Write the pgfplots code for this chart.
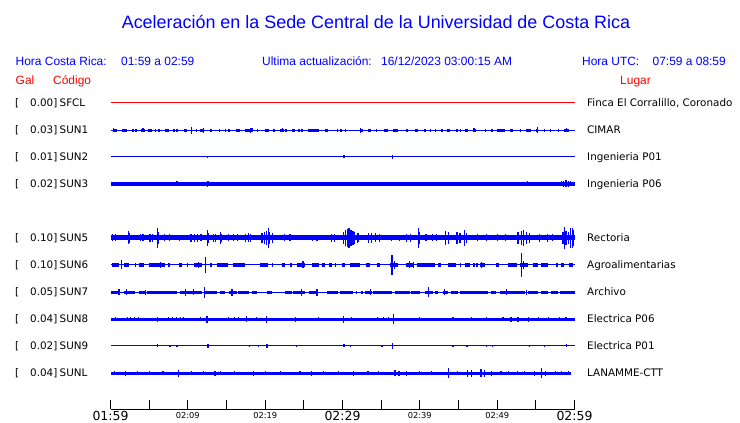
\documentclass[border=0pt]{standalone}
\usepackage{pgfplots}
\pgfplotsset{compat=1.18}
\usepackage{fontspec}
\setmainfont{DejaVu Sans}
\newfontfamily\lib{Liberation Sans}
\definecolor{pblue}{RGB}{0,0,255}
\definecolor{pred}{RGB}{255,0,0}
\newcommand\TL[1]{\raisebox{1.3bp}[\height][\depth]{\fontsize{12.5}{14}\selectfont #1}}
\pgfplotsset{
  spikes/.style={draw=none, error bars/.cd, y dir=both, y explicit, error mark=none,
    error bar style={draw=pblue, solid, line width=1.2bp}},
  blocks/.style={draw=none, error bars/.cd, x dir=both, x explicit, error mark=none,
    error bar style={draw=pblue, solid, line width=#1}},
}
\begin{document}
\begin{tikzpicture}
\useasboundingbox (0,0) rectangle (740bp,423bp);
\begin{axis}[
  at={(110.5bp,14bp)}, anchor=south west, scale only axis,
  width=464bp, height=323bp,
  xmin=0, xmax=60, ymin=-409, ymax=-86,
  axis x line*=bottom, axis y line=none, ytick=\empty,
  xtick={0,10,...,60}, minor xtick={5,15,...,55},
  xticklabels={\TL{01:59},02:09,02:19,\TL{02:29},02:39,02:49,\TL{02:59}},
  xticklabel style={anchor=north, inner sep=0pt, yshift=-3.3bp, font=\fontsize{8.3}{10}\selectfont},
  tick align=inside, major tick length=9bp, minor tick length=9bp,
  tick style={black, line width=1bp}, axis line style={black, line width=1bp},
  clip=false,
]
% SFCL
\addplot[pred, line width=1bp] coordinates {(0,-103) (60,-103)};
% SUN1
\addplot[pblue, line width=1bp] coordinates {(0,-130.3) (60,-130.3)};
\addplot[blocks=3bp] table[x=x, y expr=-130.3, x error=w] {
x w
0.6 0.3
1.83 0.33
2.9 0.1
3.3 0.1
4.22 0.22
5.12 0.27
5.8 0.1
6.3 0.1
7.25 0.25
8.22 0.08
8.57 0.08
9.67 0.22
11.1 0.1
11.83 0.22
12.97 0.08
14.05 0.08
14.85 0.08
15.32 0.08
16.5 0.3
17.85 0.45
18.97 0.08
20.05 0.08
20.37 0.08
21.15 0.08
22.15 0.25
22.65 0.08
23.62 0.18
24.35 0.08
24.77 0.08
26.25 0.65
27.9 0.2
29.32 0.08
29.75 0.08
30.37 0.08
32.47 0.22
33.5 0.2
34.35 0.08
35.65 0.25
36.87 0.33
38.35 0.08
39.57 0.22
40.62 0.08
41.35 0.08
42.02 0.08
42.85 0.08
43.67 0.22
44.77 0.08
45.22 0.08
46.02 0.22
47.15 0.15
48.45 0.08
49.32 0.08
50.5 0.5
51.82 0.22
52.97 0.08
54.07 0.33
55.17 0.12
56.12 0.08
56.87 0.08
57.92 0.08
59.02 0.33
};
\addplot[spikes] table[x=x, y expr=-130.3, y error=e] {
x e
0.4 1.8
4.2 1.8
10.5 3.7
12.0 2.5
18.1 2.5
18.3 2
22.2 2
32.3 2.5
47.0 2
55.2 3
59.0 1.8
};
% SUN2
\addplot[pblue, line width=1bp] coordinates {(0,-157) (60,-157)};
\addplot[spikes] table[x=x, y expr=-157, y error=e] {
x e
12.5 1
30.1 1.5
30.2 1.5
36.5 2
};
% SUN3
\addplot[pblue, line width=3.2bp] coordinates {(0,-184) (60,-184)};
\addplot[spikes] table[x=x, y expr=-184, y error=e] {
x e
2.6 2
8.6 2.5
12.5 3
12.6 2.5
18.5 2
30.1 2
41.0 2
53.9 2.5
58.3 2.5
58.6 3
58.9 3.5
59.2 3
59.5 2.5
};
% SUN5
\addplot[pblue, line width=5bp] coordinates {(0,-238) (60,-238)};
\addplot[spikes] table[x=x, y expr=-238, y error=e] {
x e
0.3 3.5
0.6 3.5
2.37 6.5
2.5 5
3.9 3.5
4.2 3.5
5.1 4
5.4 4
6.1 10
6.25 6
7.0 3.5
7.6 3.5
8.9 3
10.4 4
10.9 4
11.3 4
11.7 3.5
12.55 8
12.7 5
13.3 4
13.6 4
14.2 6
14.4 4
15.3 3.5
15.9 3.5
16.4 3.5
17.5 4
17.8 4.5
18.1 4
19.6 5
19.9 6
20.2 7
20.4 10
20.6 6
20.9 5
22.5 3.5
23.2 3.5
26.1 3
26.7 3
28.6 4
29.0 4
30.1 6
30.35 8
30.6 9
30.85 10
31.1 8
31.35 7
31.6 6
31.9 5
32.1 4.5
33.4 5
33.8 5
34.3 4.5
34.8 4
36.3 3
37.4 3
38.3 4
38.8 4
39.8 10
39.95 6
40.8 3.5
41.6 3.5
42.2 3.5
43.3 7
43.7 6
44.8 6
45.2 5
45.8 8
46.0 5
47.5 3.5
48.6 3.5
50.0 3.5
51.1 3.5
52.7 6
53.1 7
53.4 8
53.8 6
54.2 5
55.5 4
56.5 4
57.2 3.5
58.5 6
58.7 11
58.9 7
59.2 6
59.45 10
59.7 10
59.85 8
};
% SUN6
\addplot[pblue, line width=1bp] coordinates {(0,-265) (60,-265)};
\addplot[blocks=3.5bp] table[x=x, y expr=-265, x error=w] {
x w
0.6 0.47
2.05 0.32
3.22 0.08
3.98 0.32
6.02 1.07
7.57 0.08
9.02 0.22
9.95 0.06
11.27 0.53
12.97 0.08
14.5 0.75
16.65 0.75
19.87 0.53
20.92 0.08
22.37 0.22
23.32 0.12
24.63 0.53
26.45 0.45
27.52 0.22
28.4 0.2
29.07 0.08
30.1 0.2
31.6 0.65
33.32 0.22
34.62 0.22
36.66 0.53
38.7 0.43
40.75 1.18
42.58 0.22
44.2 0.53
45.23 0.08
46.12 0.32
46.95 0.06
47.37 0.08
48.06 0.32
50.1 0.2
51.95 0.55
53.44 0.53
54.93 0.32
56.13 0.43
57.7 0.08
58.5 0.2
59.57 0.22
};
\addplot[spikes] table[x=x, y expr=-265, y error=e] {
x e
1.4 4.5
6.5 3
11.4 3
12.3 8
24.9 3.5
36.4 10
36.7 4
38.7 3.5
39.2 3
48.0 3
53.1 12
53.4 4
};
% SUN7
\addplot[pblue, line width=1bp] coordinates {(0,-292.3) (60,-292.3)};
\addplot[blocks=3.2bp] table[x=x, y expr=-292.3, x error=w] {
x w
0.54 0.54
2.47 0.75
4.09 0.43
6.67 1.94
10.43 1.4
13.01 0.75
14.52 0.32
15.8 0.53
17.2 0.65
18.6 0.32
20.53 0.32
23.01 0.43
24.41 0.75
26.28 0.6
28.71 0.75
30.54 0.86
31.8 0.06
32.5 0.06
33.33 0.43
35.16 1.18
37.74 0.97
39.46 0.54
41.18 0.54
42.15 0.22
43.33 0.32
44.52 0.43
46.99 1.83
49.57 0.32
51.93 1.61
54.62 0.65
56.13 0.43
57.42 0.43
59.03 0.97
};
\addplot[spikes] table[x=x, y expr=-292.3, y error=e] {
x e
1.1 3
2.1 3
4.5 2.5
9.7 3.5
10.75 3
12.2 5.5
15.7 3.5
24.7 3.5
26.7 3.5
33.6 3
41.1 5
43.2 3
51.2 3
53.8 2.5
};
% SUN8
\addplot[pblue, line width=3.2bp] coordinates {(0,-319.3) (60,-319.3)};
\addplot[spikes] table[x=x, y expr=-319.3, y error=e] {
x e
0.65 2
2.15 2
2.6 2
3.1 2
3.66 2
6.1 2.5
7.5 2
8.0 2
8.5 2
9.0 2
9.46 2
11.6 2
12.47 3.5
15.27 2
16.0 2
16.56 2
17.6 3
18.9 2
20.2 3.5
23.9 2.5
26.9 2
30.1 3.5
31.2 2
34.5 2
35.3 2
35.9 2
36.6 5
40.0 2
44.3 2
46.7 2
48.6 2
50.75 2
51.8 2.5
52.7 2.5
54.0 2.5
55.3 2
56.6 2
58.1 2
58.9 2
};
% SUN9
\addplot[pblue, line width=1bp] coordinates {(0,-346) (60,-346)};
\addplot[spikes] table[x=x, y expr=-346, y error=e] {
x e
6.1 1.5
7.7 1.2
8.6 1
12.5 2
12.6 2
18.0 1
19.1 1
20.2 2
20.3 2
24.1 1
30.1 1.5
30.2 1.5
31.0 1.2
35.1 1
36.5 3
44.3 1.2
46.1 1
48.6 1
49.4 1
54.2 1
56.1 1.2
59.0 1.5
};
% SUNL
\addplot[pblue, line width=2.6bp] coordinates {(0,-373.3) (59.6,-373.3)};
\addplot[spikes] table[x=x, y expr=-373.3, y error=e] {
x e
0.5 2
1.94 2.5
3.5 2
5.0 2
6.8 2
8.8 3.5
10.5 2
12.0 2
13.5 2.5
14.2 2
16.0 2
18.5 2.5
20.0 2
22.0 2
24.5 2
26.0 2.5
27.5 2
29.5 2
31.4 2.5
33.3 2
34.7 2
36.8 3
37.3 2.5
38.3 2.5
40.0 2
41.5 2
43.66 5
44.9 2
46.2 3.5
46.7 3.5
47.9 4
48.4 3.5
49.25 2.5
50.5 2
51.5 2
52.6 2
53.5 2
54.8 2.5
55.7 5
56.3 2.5
57.5 2
58.3 2
59.2 2
};
\end{axis}
% Title and headers
\node[anchor=base, inner sep=0, text=pblue, font=\lib\fontsize{18}{20}\selectfont] at (376bp,394bp) {Aceleración en la Sede Central de la Universidad de Costa Rica};
\begin{scope}[every node/.style={inner sep=0, text=pblue, font=\lib\fontsize{12}{14}\selectfont}]
\node[anchor=base west] at (15.5bp,357.5bp) {Hora Costa Rica:};
\node[anchor=base west] at (121bp,357.5bp) {01:59 a 02:59};
\node[anchor=base west] at (262bp,357.5bp) {Ultima actualización:};
\node[anchor=base west] at (381bp,357.5bp) {16/12/2023 03:00:15 AM};
\node[anchor=base west] at (582bp,357.5bp) {Hora UTC:};
\node[anchor=base east] at (726bp,357.5bp) {07:59 a 08:59};
\end{scope}
\begin{scope}[every node/.style={inner sep=0, text=pred, font=\lib\fontsize{12}{14}\selectfont}]
\node[anchor=base west] at (15.5bp,338bp) {Gal};
\node[anchor=base west] at (53bp,338bp) {Código};
\node[anchor=base west] at (620bp,338bp) {Lugar};
\end{scope}
% Station labels
\begin{scope}[every node/.style={inner sep=0, text=black, font=\fontsize{10.4}{12}\selectfont}]
\foreach \yy/\vv/\cc/\ll in {316/0.00/SFCL/{Finca El Corralillo, Coronado},
  289/0.03/SUN1/CIMAR, 262/0.01/SUN2/Ingenieria P01, 235/0.02/SUN3/Ingenieria P06,
  181/0.10/SUN5/Rectoria, 154/0.10/SUN6/Agroalimentarias, 127/0.05/SUN7/Archivo,
  100/0.04/SUN8/Electrica P06, 73/0.02/SUN9/Electrica P01, 46/0.04/SUNL/LANAMME-CTT}{
  \node[anchor=base west] at (15bp,\yy bp) {[};
  \node[anchor=base east] at (57.5bp,\yy bp) {\vv]};
  \node[anchor=base west] at (59.5bp,\yy bp) {\cc};
  \node[anchor=base west] at (587bp,\yy bp) {\ll};
}
\end{scope}
\end{tikzpicture}
\end{document}
